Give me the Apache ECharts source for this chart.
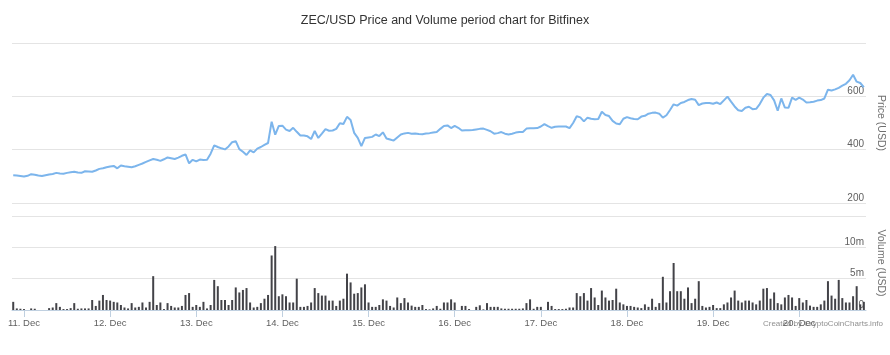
<!DOCTYPE html>
<html>
<head>
<meta charset="utf-8">
<script src="https://cdn.jsdelivr.net/npm/echarts@6/dist/echarts.min.js"></script>
<style>
  html, body { margin: 0; padding: 0; background: #fff; overflow: hidden; }
  #chart { width: 890px; height: 355px; }
</style>
</head>
<body>
<div id="chart"></div>
<script>
// Hourly data, first point at 10 Dec 21:00 (hour -3 relative to 11 Dec 00:00)
const startHour = -3;
const dayTicks = [0, 24, 48, 72, 96, 120, 144, 168, 192, 216];
const dayLabels = ['11. Dec', '12. Dec', '13. Dec', '14. Dec', '15. Dec', '16. Dec', '17. Dec', '18. Dec', '19. Dec', '20. Dec'];
const priceTicks = [200, 400, 600, 800];
const volumeTicks = [0, 5, 10, 15];

// Price (USD), hourly
const price = [
  304, 303, 301, 299, 302, 308, 306, 303, 301, 304,
  307, 309, 313, 311, 310, 313, 315, 317, 314, 313,
  319, 318, 317, 322, 328, 330, 334, 337, 339, 330,
  341, 338, 336, 334, 338, 343, 348, 354, 360, 365,
  362, 358, 364, 371, 368, 365, 370, 377, 382, 349,
  362, 356, 363, 361, 362, 385, 416, 410, 405, 401,
  412, 428, 432, 402, 392, 380, 397, 390, 404, 410,
  418, 425, 505, 456, 489, 490, 475, 470, 482, 467,
  453, 453, 450, 440, 470, 444, 460, 477, 471, 472,
  478, 499, 496, 523, 511, 463, 444, 413, 444, 446,
  448, 457, 451, 465, 442, 438, 434, 446, 457, 461,
  463, 460, 461, 459, 458, 461, 462, 464, 466, 478,
  489, 491, 481, 489, 482, 472, 473, 473, 474, 476,
  478, 479, 474, 469, 460, 462, 466, 460, 457, 460,
  464, 466, 466, 479, 480, 480, 481, 487, 496, 488,
  482, 486, 487, 487, 487, 481, 500, 525, 521, 506,
  520, 516, 514, 515, 542, 530, 526, 508, 498, 495,
  516, 522, 518, 515, 514, 524, 527, 535, 538, 539,
  535, 520, 529, 549, 570, 565, 575, 579, 586, 590,
  587, 567, 573, 575, 575, 572, 577, 571, 585, 599,
  580, 562, 548, 545, 557, 561, 552, 553, 571, 595,
  609, 605, 585, 546, 592, 558, 557, 595, 587, 595,
  588, 577, 578, 580, 584, 586, 592, 625, 622, 626,
  632, 640, 647, 660, 681, 655, 650, 634
];

// Volume (USD, millions), hourly
const volume = [
  1.3, 0.25, 0.2, 0.15, 0, 0.25, 0.2, 0, 0, 0,
  0.3, 0.4, 1.1, 0.5, 0.15, 0.15, 0.3, 1.1, 0.2, 0.25,
  0.25, 0.25, 1.6, 0.65, 1.5, 2.4, 1.6, 1.5, 1.3, 1.2,
  0.8, 0.4, 0.25, 1.1, 0.4, 0.5, 1.2, 0.4, 1.3, 5.4,
  0.8, 1.2, 0.15, 1.1, 0.65, 0.4, 0.4, 0.65, 2.4, 2.7,
  0.5, 0.8, 0.5, 1.3, 0.25, 0.8, 4.8, 3.8, 1.6, 1.6,
  0.8, 1.6, 3.6, 2.8, 3.2, 3.5, 1.2, 0.4, 0.5, 1.1,
  1.8, 2.4, 8.7, 10.2, 2.2, 2.5, 2.2, 1.2, 1.2, 5.0,
  0.5, 0.5, 0.65, 1.2, 3.5, 2.7, 2.3, 2.3, 1.5, 1.5,
  0.65, 1.5, 1.8, 5.8, 4.4, 2.6, 2.7, 3.6, 4.1, 1.2,
  0.5, 0.5, 0.8, 1.7, 1.5, 0.65, 0.4, 2.0, 1.1, 1.9,
  1.2, 0.7, 0.5, 0.5, 0.8, 0.15, 0.1, 0.25, 0.65, 0.2,
  1.2, 1.2, 1.7, 1.2, 0, 0.65, 0.65, 0.15, 0, 0.5,
  0.75, 0.1, 1.1, 0.5, 0.5, 0.5, 0.25, 0.2, 0.2, 0.2,
  0.2, 0.2, 0.25, 1.1, 1.7, 0.2, 0.5, 0.5, 0, 1.3,
  0.65, 0.15, 0.15, 0.15, 0.2, 0.4, 0.4, 2.7, 2.2, 2.7,
  1.5, 3.5, 2.0, 0.8, 3.1, 2.0, 1.5, 1.6, 3.4, 1.2,
  0.9, 0.65, 0.65, 0.5, 0.4, 0.3, 0.9, 0.5, 1.8, 0.5,
  1.1, 5.3, 1.2, 3.0, 7.5, 3.0, 3.0, 1.8, 3.6, 1.1,
  1.8, 4.6, 0.65, 0.4, 0.5, 0.8, 0.3, 0.3, 0.9, 1.2,
  2.0, 3.1, 1.5, 1.2, 1.5, 1.5, 1.2, 0.9, 1.5, 3.4,
  3.5, 1.8, 2.8, 1.1, 0.9, 2.0, 2.4, 2.0, 0.65, 1.9,
  1.2, 1.6, 0.7, 0.5, 0.5, 0.9, 1.5, 4.6, 2.3, 1.8,
  4.8, 1.9, 1.2, 1.2, 2.2, 3.8, 0.9, 1.3
];

const priceData = price.map((v, i) => [startHour + i, v]);
const volumeData = volume.map((v, i) => [startHour + i, v]);

const FONT = '"Liberation Sans", Arial, sans-serif';
const xMin = -3.34, xMax = 234.6;

const chart = echarts.init(document.getElementById('chart'), null, { renderer: 'canvas' });
chart.setOption({
  animation: false,
  backgroundColor: '#ffffff',
  title: {
    text: 'ZEC/USD Price and Volume period chart for Bitfinex',
    left: 'center',
    top: 9,
    textStyle: { fontFamily: FONT, fontSize: 12.5, fontWeight: 'normal', color: '#333333' }
  },
  graphic: [{
    type: 'text',
    right: 7,
    top: 320,
    style: { text: 'Created by CryptoCoinCharts.info', fontFamily: FONT, fontSize: 8, fill: '#909090' }
  }],
  grid: [
    { left: 12, right: 24, top: 43, height: 160, outerBoundsMode: 'none', containLabel: false },
    { left: 12, right: 24, top: 216, height: 94, outerBoundsMode: 'none', containLabel: false }
  ],
  xAxis: [
    { type: 'value', gridIndex: 0, min: xMin, max: xMax, show: false, splitLine: { show: false } },
    {
      type: 'value', gridIndex: 1, min: xMin, max: xMax,
      splitLine: { show: false },
      axisLine: { show: true, lineStyle: { color: '#C0D0E0', width: 1 } },
      axisTick: { show: true, customValues: dayTicks, length: 7, lineStyle: { color: '#C0D0E0' } },
      axisLabel: {
        customValues: dayTicks,
        formatter: v => dayLabels[dayTicks.indexOf(Math.round(v))] || '',
        color: '#606060', fontFamily: FONT, fontSize: 9.5, margin: 8
      }
    }
  ],
  yAxis: [
    {
      type: 'value', gridIndex: 0, position: 'right',
      min: priceTicks[0], max: priceTicks[priceTicks.length - 1], interval: 200,
      axisLine: { show: false }, axisTick: { show: false },
      splitLine: { lineStyle: { color: '#E4E4E4', width: 1 } },
      axisLabel: {
        inside: true, margin: 2, showMaxLabel: false, verticalAlign: 'bottom',
        color: '#606060', fontFamily: FONT, fontSize: 10
      },
      name: 'Price (USD)', nameLocation: 'middle', nameRotate: -90, nameGap: 9,
      nameTextStyle: { color: '#707070', fontFamily: FONT, fontSize: 10.5 }
    },
    {
      type: 'value', gridIndex: 1, position: 'right',
      min: volumeTicks[0], max: volumeTicks[volumeTicks.length - 1], interval: 5,
      axisLine: { show: false }, axisTick: { show: false },
      splitLine: { lineStyle: { color: '#E4E4E4', width: 1 } },
      axisLabel: {
        inside: true, margin: 2, showMaxLabel: false, verticalAlign: 'bottom',
        formatter: v => (v === 0 ? '0' : v + 'm'),
        color: '#606060', fontFamily: FONT, fontSize: 10
      },
      name: 'Volume (USD)', nameLocation: 'middle', nameRotate: -90, nameGap: 9,
      nameTextStyle: { color: '#707070', fontFamily: FONT, fontSize: 10.5 }
    }
  ],
  series: [
    {
      type: 'line', xAxisIndex: 0, yAxisIndex: 0, data: priceData,
      showSymbol: false, lineStyle: { color: '#7CB5EC', width: 2 }, itemStyle: { color: '#7CB5EC' }
    },
    {
      type: 'bar', xAxisIndex: 1, yAxisIndex: 1, data: volumeData,
      barWidth: 2, itemStyle: { color: '#434348' }
    }
  ]
});
</script>
</body>
</html>
